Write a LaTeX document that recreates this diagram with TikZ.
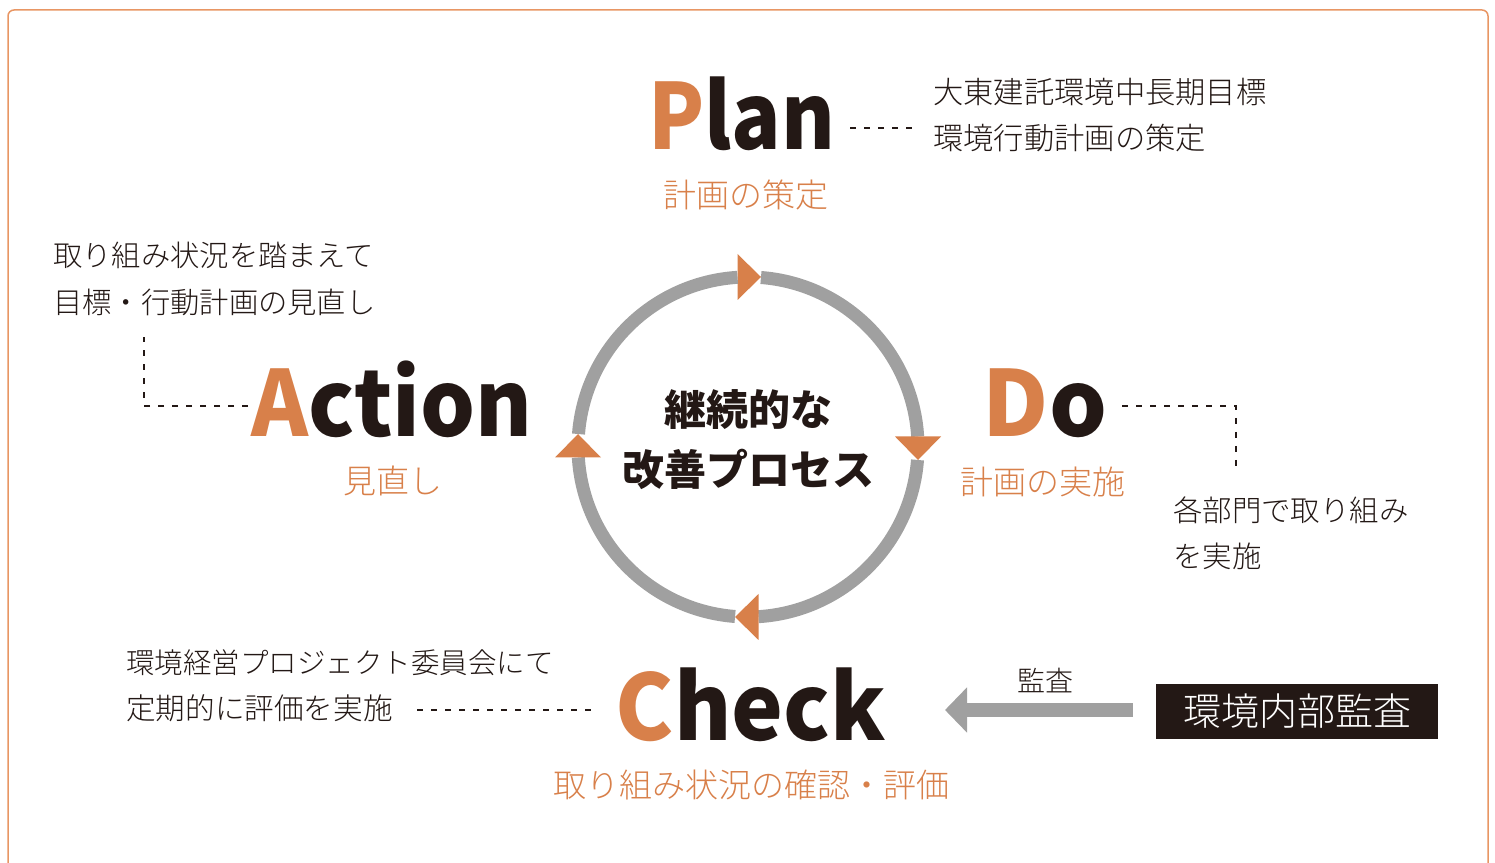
\documentclass[tikz,border=0pt]{standalone}
\usepackage{fontspec}
\newfontfamily\jp{Noto Sans CJK JP}
\IfFontExistsTF{Noto Sans CJK JP Light}{\newfontfamily\jpl{Noto Sans CJK JP Light}}{\newfontfamily\jpl{Noto Sans CJK JP}}
\usetikzlibrary{arrows.meta,calc}
\definecolor{org}{RGB}{216,128,74}
\definecolor{ink}{RGB}{35,24,21}
\definecolor{ringc}{RGB}{160,160,160}
\definecolor{framec}{RGB}{232,150,100}
\begin{document}
\begin{tikzpicture}[x=1pt,y=1pt,
  bigword/.style={inner sep=0, anchor=base, text=ink, font=\jp\bfseries\fontsize{91}{91}\selectfont},
  sub/.style={inner sep=0, anchor=base, text=org, font=\jpl\fontsize{33}{33}\selectfont},
  note/.style={inner sep=0, anchor=base west, text=ink, font=\jpl\fontsize{#1}{#1}\selectfont},
  note/.default=29.5,
  center/.style={inner sep=0, anchor=base, text=ink, font=\jp\bfseries\fontsize{42}{42}\selectfont},
  dline/.style={draw=ink, line width=1.3, dash pattern=on 6 off 8},
]
\useasboundingbox (0,0) rectangle (1495,862);
\draw[framec, line width=1.5, rounded corners=6] (8,-20) -- (8,852) -- (1488,852) -- (1488,-20);

% ring
\foreach \t in {90,0,-90,-180} {
  \begin{scope}[shift={(748,415)}, rotate=\t]
    \draw[ringc, line width=13] (-4.37:170) arc[start angle=-4.37, end angle=-86.47, radius=170];
    \fill[org] (193,10.5) -- (147,10.5) -- (170,-13) -- cycle;
  \end{scope}
}

% centre text
\node[center] (c1) at (748,436) {継続的な};
\node[center] (c2) at (748,376) {改善プロセス};

% big words
\node[bigword] (plan) at (742,712) {\scalebox{0.9}[1]{{\color{org}P}lan}};
\node[bigword] (action) at (392,425) {\scalebox{0.95}[1]{{\color{org}A}ction}};
\node[bigword] (do) at (1045,425) {{\color{org}D}o};
\node[bigword] (check) at (751,122) {\scalebox{0.96}[1]{{\color{org}C}heck}};

% orange subtitles
\node[sub] (plansub) at (746,654.5) {計画の策定};
\node[sub] (actsub) at (393,368.5) {見直し};
\node[sub] (dosub) at (1043,367.5) {計画の実施};
\node[sub] (chksub) at (751,64.5) {取り組み状況の確認・評価};

% notes
\node[note=30.3] (pn1) at (933,758.6) {大東建託環境中長期目標};
\node[note=30.3] (pn2) at (933,712.6) {環境行動計画の策定};
\node[note=29.3] (an1) at (53,595.8) {取り組み状況を踏まえて};
\node[note=29.3] (an2) at (53,548.8) {目標・行動計画の見直し};
\node[note=29.4] (dn1) at (1173,340.8) {各部門で取り組み};
\node[note=29.4] (dn2) at (1173,294.8) {を実施};
\node[note=28.5] (cn1) at (126,189) {環境経営プロジェクト委員会にて};
\node[note=29.6] (cn2) at (126,143) {定期的に評価を実施};

% dashed leaders
\coordinate (pd1) at (850,734);
\coordinate (pd2) at (912,734);
\draw[dline] (pd1) -- (pd2);
\coordinate (ad1) at (248,456);
\coordinate (ad2) at (144,525);
\draw[dline] (ad1) -| (ad2);
\coordinate (dd1) at (1122,456);
\coordinate (dd2) at (1236,390);
\draw[dline] (dd1) -| (dd2);
\coordinate (cd1) at (417,152);
\coordinate (cd2) at (598,152);
\draw[dline] (cd1) -- (cd2);

% audit
\node[inner sep=0, minimum width=282, minimum height=55, fill=ink, text=white,
  font=\jpl\fontsize{38}{38}\selectfont] (audit) at (1297,151) {環境内部監査};
\coordinate (arS) at (1133,152);
\coordinate (arE) at (945,152);
\draw[ringc, line width=14, -{Triangle[length=22,width=44]}] (arS) -- (arE);
\node[inner sep=0, anchor=base, text=ink, font=\jpl\fontsize{28}{28}\selectfont] (kansa) at (1045,171) {監査};
\end{tikzpicture}
\end{document}
